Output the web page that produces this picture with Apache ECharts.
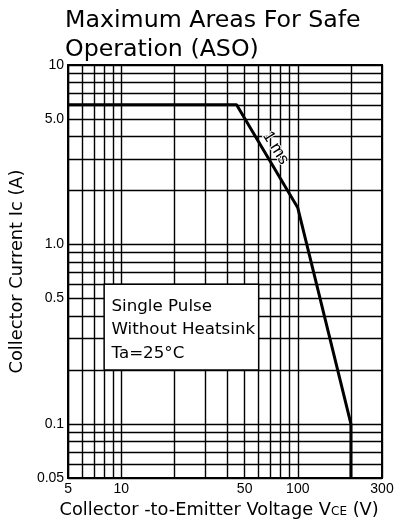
<!DOCTYPE html>
<html>
<head>
<meta charset="utf-8">
<script src="https://cdn.jsdelivr.net/npm/echarts@6/dist/echarts.min.js"></script>
<style>
html,body{margin:0;padding:0;background:#fff;}
#chart{width:407px;height:525px;}
</style>
</head>
<body>
<div id="chart"></div>
<script>
// ---- data ----
var titleText = 'Maximum Areas For Safe\nOperation (ASO)';
var vce = [5, 45, 100, 200, 200];          // Collector-to-Emitter Voltage (V)
var ic  = [6, 6, 1.6, 0.1, 0.05];          // Collector Current (A)
var xGridValues = [5, 6, 7, 8, 9, 10, 20, 30, 40, 50, 60, 70, 80, 90, 100, 200, 300];
var yGridValues = [0.05, 0.06, 0.07, 0.08, 0.09, 0.1, 0.2, 0.3, 0.4, 0.5, 0.6, 0.7, 0.8, 0.9,
                   1, 2, 3, 4, 5, 6, 7, 8, 9, 10];
var xTickLabels = [5, 10, 50, 100, 300];
var yTickLabels = [0.05, 0.1, 0.5, 1, 5, 10];
var yLabelText = {'0.05': '0.05', '0.1': '0.1', '0.5': '0.5', '1': '1.0', '5': '5.0', '10': '10'};
var curveLabel = '1 ms';
var curveLabelAt = [75, 3.45];
var noteLines = ['Single Pulse', 'Without Heatsink', 'Ta=25°C'];
var noteBox = [[8, 0.6], [60, 0.2]];

var points = vce.map(function (v, i) { return [v, ic[i]]; });

var chart = echarts.init(document.getElementById('chart'));
var sans = 'Liberation Sans, Arial, sans-serif';
var wide = 'DejaVu Sans, sans-serif';
chart.setOption({
  backgroundColor: '#fff',
  animation: false,
  title: {
    text: titleText,
    left: 60, top: 1,
    textStyle: {fontFamily: wide, fontSize: 23.7, fontWeight: 'normal', color: '#000', lineHeight: 29}
  },
  grid: {left: 62, top: 65, width: 320, height: 413, show: true, borderColor: '#000', borderWidth: 2, backgroundColor: 'transparent'},
  xAxis: {
    type: 'log', logBase: 10, min: 5, max: 300,
    name: 'Collector -to-Emitter Voltage V{s|CE} (V)',
    nameLocation: 'middle', nameGap: 23,
    nameTextStyle: {fontFamily: wide, fontSize: 17.8, color: '#000', padding: [0, 12, 0, 0],
      rich: {s: {fontFamily: wide, fontSize: 12, color: '#000', padding: [3, 0, 0, 0]}}},
    axisLine: {show: true, lineStyle: {color: '#000', width: 2}},
    axisTick: {show: false, customValues: xGridValues},
    splitLine: {show: true, lineStyle: {color: '#000', width: 1.4}},
    axisLabel: {customValues: xTickLabels, margin: 4, fontFamily: sans, fontSize: 14, color: '#000',
      formatter: function (v) { return String(Math.round(v)); }}
  },
  yAxis: {
    type: 'log', logBase: 10, min: 0.05, max: 10,
    name: 'Collector Current Ic (A)',
    nameLocation: 'middle', nameGap: 34, nameRotate: 90,
    nameTextStyle: {fontFamily: wide, fontSize: 17.8, color: '#000'},
    axisLine: {show: true, lineStyle: {color: '#000', width: 2}},
    axisTick: {show: false, customValues: yGridValues},
    splitLine: {show: true, lineStyle: {color: '#000', width: 1.4}},
    axisLabel: {customValues: yTickLabels, margin: 4, fontFamily: sans, fontSize: 14, color: '#000',
      formatter: function (v) { var k = String(+v.toPrecision(3)); return yLabelText[k] || k; }}
  },
  series: [{
    type: 'line',
    data: points,
    symbol: 'none',
    lineStyle: {color: '#000', width: 3},
    z: 5,
    markArea: {
      silent: true,
      itemStyle: {color: '#fff', borderColor: '#000', borderWidth: 1.4},
      label: {show: true, position: [8, 11], formatter: noteLines.join('\n'),
        fontFamily: wide, fontSize: 16.7, lineHeight: 23.5, color: '#000'},
      data: [[{coord: noteBox[0]}, {coord: noteBox[1]}]]
    },
    markPoint: {
      silent: true,
      symbol: 'circle', symbolSize: 0,
      label: {show: true, position: 'inside', formatter: curveLabel, rotate: -58,
        fontFamily: sans, fontSize: 16.5, color: '#000', textBorderColor: '#fff', textBorderWidth: 2},
      data: [{coord: curveLabelAt}]
    }
  }]
});
</script>
</body>
</html>
